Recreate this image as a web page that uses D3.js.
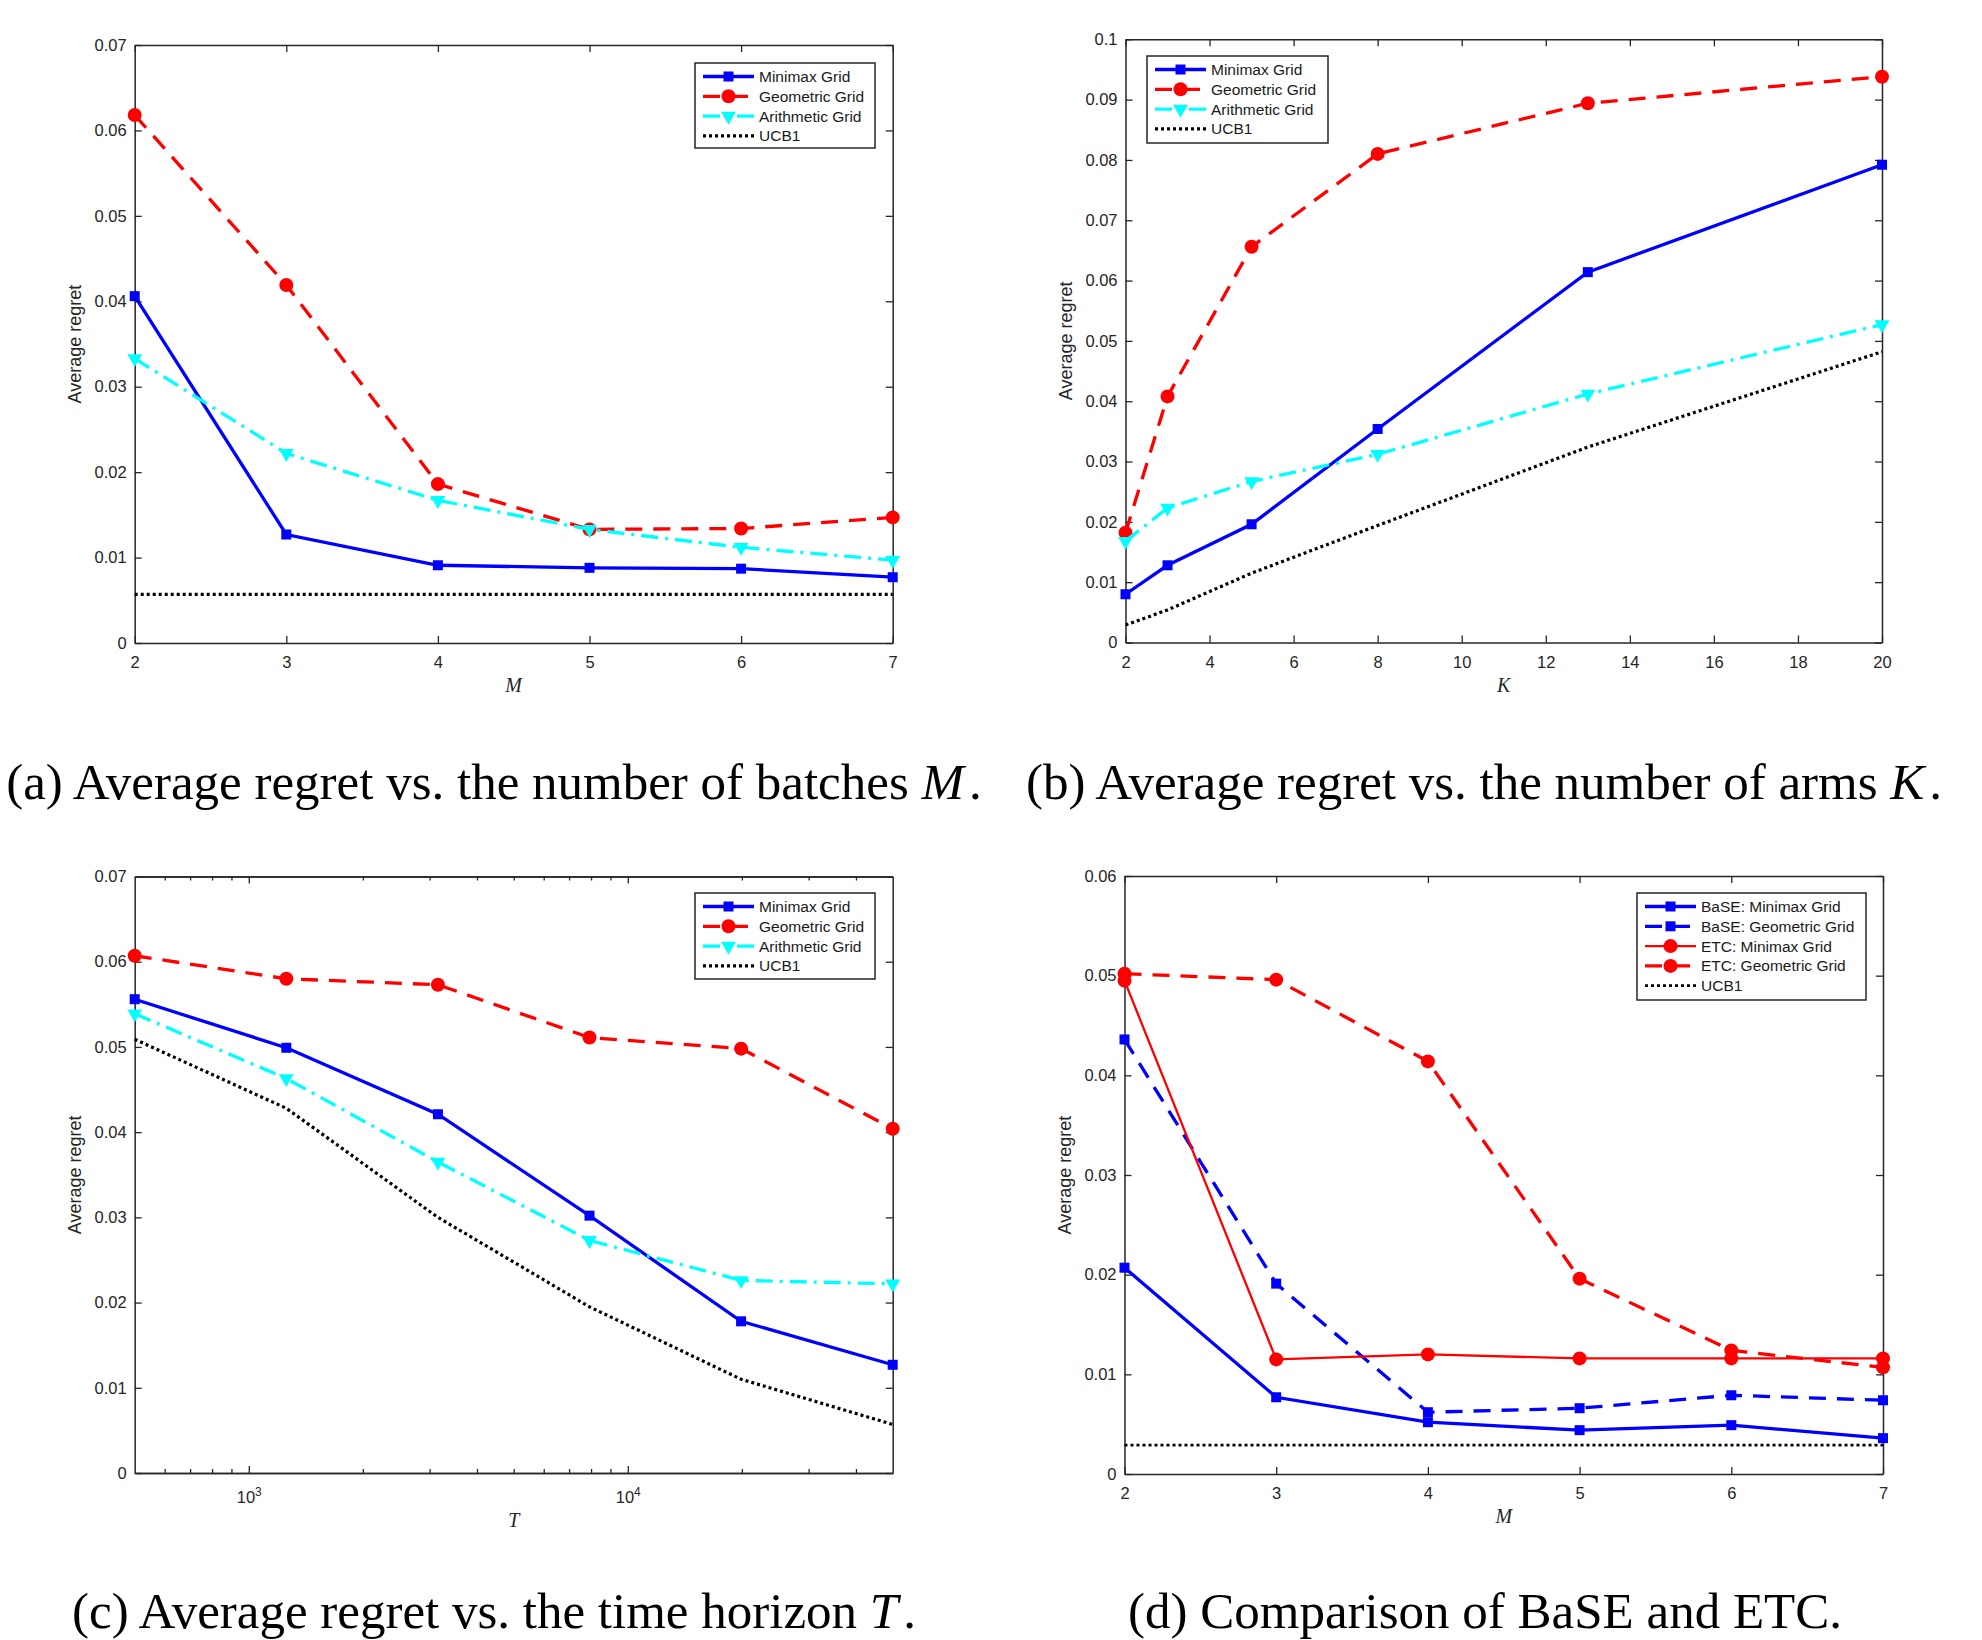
<!DOCTYPE html>
<html>
<head>
<meta charset="utf-8">
<script src="https://cdn.jsdelivr.net/npm/d3@7"></script>
<style>
  body { margin: 0; background: #fff; }
  svg text { font-family: "Liberation Sans", Arial, Helvetica, sans-serif; }
</style>
</head>
<body>
<script>
// ---- data ----

// x values
const batchesM = [2, 3, 4, 5, 6, 7];
const armsK = [2, 3, 5, 8, 13, 20];
const horizonT = [500, 1256, 3155, 7924, 19905, 50000];

// (a) regret vs number of batches M
const minimaxA = [0.0406, 0.0127, 0.0091, 0.0088, 0.0087, 0.0077];
const geometricA = [0.0618, 0.0419, 0.0186, 0.0133, 0.0134, 0.0147];
const arithmeticA = [0.0333, 0.0222, 0.0167, 0.0133, 0.0112, 0.0097];
const ucbA = [0.0057, 0.0057, 0.0057, 0.0057, 0.0057, 0.0057];

// (b) regret vs number of arms K
const minimaxB = [0.0080, 0.0128, 0.0196, 0.0354, 0.0614, 0.0792];
const geometricB = [0.0182, 0.0408, 0.0656, 0.0810, 0.0894, 0.0938];
const arithmeticB = [0.0168, 0.0223, 0.0267, 0.0312, 0.0412, 0.0527];
const ucbB = [0.0029, 0.0054, 0.0115, 0.0194, 0.0324, 0.0482];

// (c) regret vs time horizon T
const minimaxC = [0.0556, 0.0499, 0.0421, 0.0302, 0.0178, 0.0127];
const geometricC = [0.0607, 0.0580, 0.0573, 0.0511, 0.0498, 0.0404];
const arithmeticC = [0.0539, 0.0463, 0.0365, 0.0273, 0.0226, 0.0222];
const ucbC = [0.0509, 0.0428, 0.0300, 0.0195, 0.0110, 0.0057];

// (d) BaSE vs ETC
const baseMinimaxD = [0.0207, 0.0077, 0.0052, 0.0044, 0.0049, 0.0036];
const baseGeometricD = [0.0436, 0.0191, 0.0062, 0.0066, 0.0079, 0.0074];
const etcMinimaxD = [0.0495, 0.0115, 0.0120, 0.0116, 0.0116, 0.0116];
const etcGeometricD = [0.0502, 0.0496, 0.0414, 0.0196, 0.0124, 0.0107];
const ucbD = [0.0029, 0.0029, 0.0029, 0.0029, 0.0029, 0.0029];

// ticks
const ticksM = [2, 3, 4, 5, 6, 7];
const ticksK = [2, 4, 6, 8, 10, 12, 14, 16, 18, 20];
const ticksTMajor = [1000, 10000];
const ticksTMinor = [600, 700, 800, 900, 2000, 3000, 4000, 5000, 6000, 7000, 8000, 9000, 20000, 30000, 40000];
const ticksY07 = [0, 0.01, 0.02, 0.03, 0.04, 0.05, 0.06, 0.07];
const ticksY10 = [0, 0.01, 0.02, 0.03, 0.04, 0.05, 0.06, 0.07, 0.08, 0.09, 0.1];
const ticksY06 = [0, 0.01, 0.02, 0.03, 0.04, 0.05, 0.06];

// ---- line styles (MATLAB look) ----
const axisColor = "#262626";
const sMinimax = { name: "Minimax Grid", color: "#0000ff", width: 3.3, dash: null, marker: "square" };
const sGeometric = { name: "Geometric Grid", color: "#ff0000", width: 3.3, dash: "17,11", marker: "circle" };
const sArithmetic = { name: "Arithmetic Grid", color: "#00ffff", width: 3.3, dash: "17,7,3,7", marker: "triangle" };
const sUcb = { name: "UCB1", color: "#000000", width: 3.2, dash: "3,3", marker: null };

const svg = d3.select("body").append("svg")
    .attr("width", 1982)
    .attr("height", 1640);

const panels = [
  { left: 134.7, right: 892.7, top: 45, bottom: 643,
    xs: batchesM, xDomain: [2, 7], xTicks: ticksM, yDomain: [0, 0.07], yTicks: ticksY07,
    series: [
      Object.assign({ values: minimaxA }, sMinimax),
      Object.assign({ values: geometricA }, sGeometric),
      Object.assign({ values: arithmeticA }, sArithmetic),
      Object.assign({ values: ucbA }, sUcb)],
    legend: { x: 695, y: 63, w: 180, h: 85 },
    xlabel: "M", caption: ["(a) Average regret vs. the number of batches ", "M", "."], capX: 494, capY: 799 },
  { left: 1125.5, right: 1882, top: 39.3, bottom: 642.5,
    xs: armsK, xDomain: [2, 20], xTicks: ticksK, yDomain: [0, 0.1], yTicks: ticksY10,
    series: [
      Object.assign({ values: minimaxB }, sMinimax),
      Object.assign({ values: geometricB }, sGeometric),
      Object.assign({ values: arithmeticB }, sArithmetic),
      Object.assign({ values: ucbB }, sUcb)],
    legend: { x: 1147, y: 56, w: 181, h: 87 },
    xlabel: "K", caption: ["(b) Average regret vs. the number of arms ", "K", "."], capX: 1484, capY: 799 },
  { left: 134.7, right: 892.7, top: 876.5, bottom: 1473, log: true,
    xs: horizonT, xDomain: [500, 50000], xTicks: ticksTMajor, yDomain: [0, 0.07], yTicks: ticksY07,
    series: [
      Object.assign({ values: minimaxC }, sMinimax),
      Object.assign({ values: geometricC }, sGeometric),
      Object.assign({ values: arithmeticC }, sArithmetic),
      Object.assign({ values: ucbC }, sUcb)],
    legend: { x: 695, y: 893, w: 180, h: 86 },
    xlabel: "T", caption: ["(c) Average regret vs. the time horizon ", "T", "."], capX: 494, capY: 1628 },
  { left: 1124.5, right: 1883, top: 876, bottom: 1474,
    xs: batchesM, xDomain: [2, 7], xTicks: ticksM, yDomain: [0, 0.06], yTicks: ticksY06,
    series: [
      Object.assign({}, sMinimax, { name: "BaSE: Minimax Grid", values: baseMinimaxD }),
      Object.assign({}, sMinimax, { name: "BaSE: Geometric Grid", values: baseGeometricD, dash: "17,11" }),
      Object.assign({}, sGeometric, { name: "ETC: Minimax Grid", values: etcMinimaxD, dash: null, width: 2.3 }),
      Object.assign({}, sGeometric, { name: "ETC: Geometric Grid", values: etcGeometricD }),
      Object.assign({}, sUcb, { values: ucbD, width: 2.8 })],
    legend: { x: 1637, y: 893, w: 229, h: 107 },
    xlabel: "M", caption: ["(d) Comparison of BaSE and ETC."], capX: 1485, capY: 1628 }
];

// draw one marker shape centred at (cx, cy)
function drawMarker(g, s, cx, cy) {
  if (s.marker === "square") {
    g.append("rect").attr("x", cx - 5).attr("y", cy - 5).attr("width", 10).attr("height", 10)
        .attr("fill", s.color);
  } else if (s.marker === "circle") {
    g.append("circle").attr("cx", cx).attr("cy", cy).attr("r", 7).attr("fill", s.color);
  } else if (s.marker === "triangle") {
    g.append("path").attr("d", d3.symbol(d3.symbolTriangle, 95)())
        .attr("transform", `translate(${cx},${cy}) rotate(180)`)
        .attr("fill", s.color);
  }
}

function styleAxis(sel) {
  sel.attr("font-family", null).attr("font-size", null);
  sel.select(".domain").attr("stroke", axisColor).attr("stroke-width", 1.5);
  sel.selectAll(".tick line").attr("stroke", axisColor).attr("stroke-width", 1.3);
  sel.selectAll(".tick text").attr("fill", axisColor).style("font-size", "16.5px");
}

function drawPanel(p) {
  const g = svg.append("g");

  const x = (p.log ? d3.scaleLog() : d3.scaleLinear()).domain(p.xDomain).range([p.left, p.right]);
  const y = d3.scaleLinear().domain(p.yDomain).range([p.bottom, p.top]);
  const fmtY = d3.format(".2~f");

  // box axes, ticks pointing inward on all four sides
  g.append("g").attr("transform", `translate(0,${p.bottom})`)
      .call(d3.axisBottom(x).tickValues(p.xTicks).tickSizeInner(-7).tickSizeOuter(0)
        .tickPadding(p.log ? 18 : 13.5).tickFormat(p.log ? () => "10" : d3.format("d")))
      .call(styleAxis)
      .call(sel => {
        if (p.log) {
          sel.selectAll(".tick text").append("tspan")
              .attr("dy", "-0.55em").style("font-size", "12px")
              .text(d => Math.round(Math.log10(d)));
        }
      });
  g.append("g").attr("transform", `translate(0,${p.top})`)
      .call(d3.axisTop(x).tickValues(p.xTicks).tickSizeInner(-7).tickSizeOuter(0).tickFormat(""))
      .call(styleAxis);
  if (p.log) {
    g.append("g").attr("transform", `translate(0,${p.bottom})`)
        .call(d3.axisBottom(x).tickValues(ticksTMinor).tickSizeInner(-4).tickSizeOuter(0).tickFormat(""))
        .call(styleAxis);
    g.append("g").attr("transform", `translate(0,${p.top})`)
        .call(d3.axisTop(x).tickValues(ticksTMinor).tickSizeInner(-4).tickSizeOuter(0).tickFormat(""))
        .call(styleAxis);
  }
  g.append("g").attr("transform", `translate(${p.left},0)`)
      .call(d3.axisLeft(y).tickValues(p.yTicks).tickSizeInner(-7).tickSizeOuter(0)
        .tickPadding(8).tickFormat(fmtY))
      .call(styleAxis);
  g.append("g").attr("transform", `translate(${p.right},0)`)
      .call(d3.axisRight(y).tickValues(p.yTicks).tickSizeInner(-7).tickSizeOuter(0).tickFormat(""))
      .call(styleAxis);

  // axis titles
  g.append("text")
      .attr("transform", `translate(${p.left - 54},${(p.top + p.bottom) / 2}) rotate(-90)`)
      .attr("text-anchor", "middle")
      .attr("fill", axisColor)
      .style("font-size", "18px")
      .text("Average regret");
  g.append("text")
      .attr("x", (p.left + p.right) / 2)
      .attr("y", p.bottom + (p.log ? 54 : 49))
      .attr("text-anchor", "middle")
      .attr("fill", axisColor)
      .style("font-family", "'Liberation Serif', 'Times New Roman', serif")
      .style("font-style", "italic")
      .style("font-size", "20px")
      .text(p.xlabel);

  // series
  const line = d3.line().x(d => x(d[0])).y(d => y(d[1]));
  p.series.forEach(s => {
    const pts = p.xs.map((xv, i) => [xv, s.values[i]]);
    g.append("path").datum(pts)
        .attr("d", line)
        .attr("fill", "none")
        .attr("stroke", s.color)
        .attr("stroke-width", s.width)
        .attr("stroke-dasharray", s.dash);
    if (s.marker) pts.forEach(d => drawMarker(g, s, x(d[0]), y(d[1])));
  });

  // legend
  const L = p.legend;
  const lg = g.append("g");
  lg.append("rect").attr("x", L.x).attr("y", L.y).attr("width", L.w).attr("height", L.h)
      .attr("fill", "#fff").attr("stroke", axisColor).attr("stroke-width", 1.5);
  p.series.forEach((s, i) => {
    const ry = L.y + 13.5 + i * 19.8;
    lg.append("line")
        .attr("x1", L.x + 8).attr("x2", L.x + 59).attr("y1", ry).attr("y2", ry)
        .attr("stroke", s.color).attr("stroke-width", s.width)
        .attr("stroke-dasharray", s.dash);
    if (s.marker) drawMarker(lg, s, L.x + 33.5, ry);
    lg.append("text")
        .attr("x", L.x + 64).attr("y", ry + 5.5)
        .attr("fill", "#1a1a1a")
        .style("font-size", "15.5px")
        .text(s.name);
  });

  // sub-figure caption
  const cap = svg.append("text")
      .attr("x", p.capX).attr("y", p.capY)
      .attr("text-anchor", "middle")
      .attr("fill", "#000")
      .style("font-family", "'Liberation Serif', 'Times New Roman', serif")
      .style("font-size", "51px");
  p.caption.forEach((part, i) => {
    const t = cap.append("tspan").text(part);
    if (i === 1) t.style("font-style", "italic");
    if (i === 2) t.attr("dx", 5);
  });
}

panels.forEach(drawPanel);
</script>
</body>
</html>
